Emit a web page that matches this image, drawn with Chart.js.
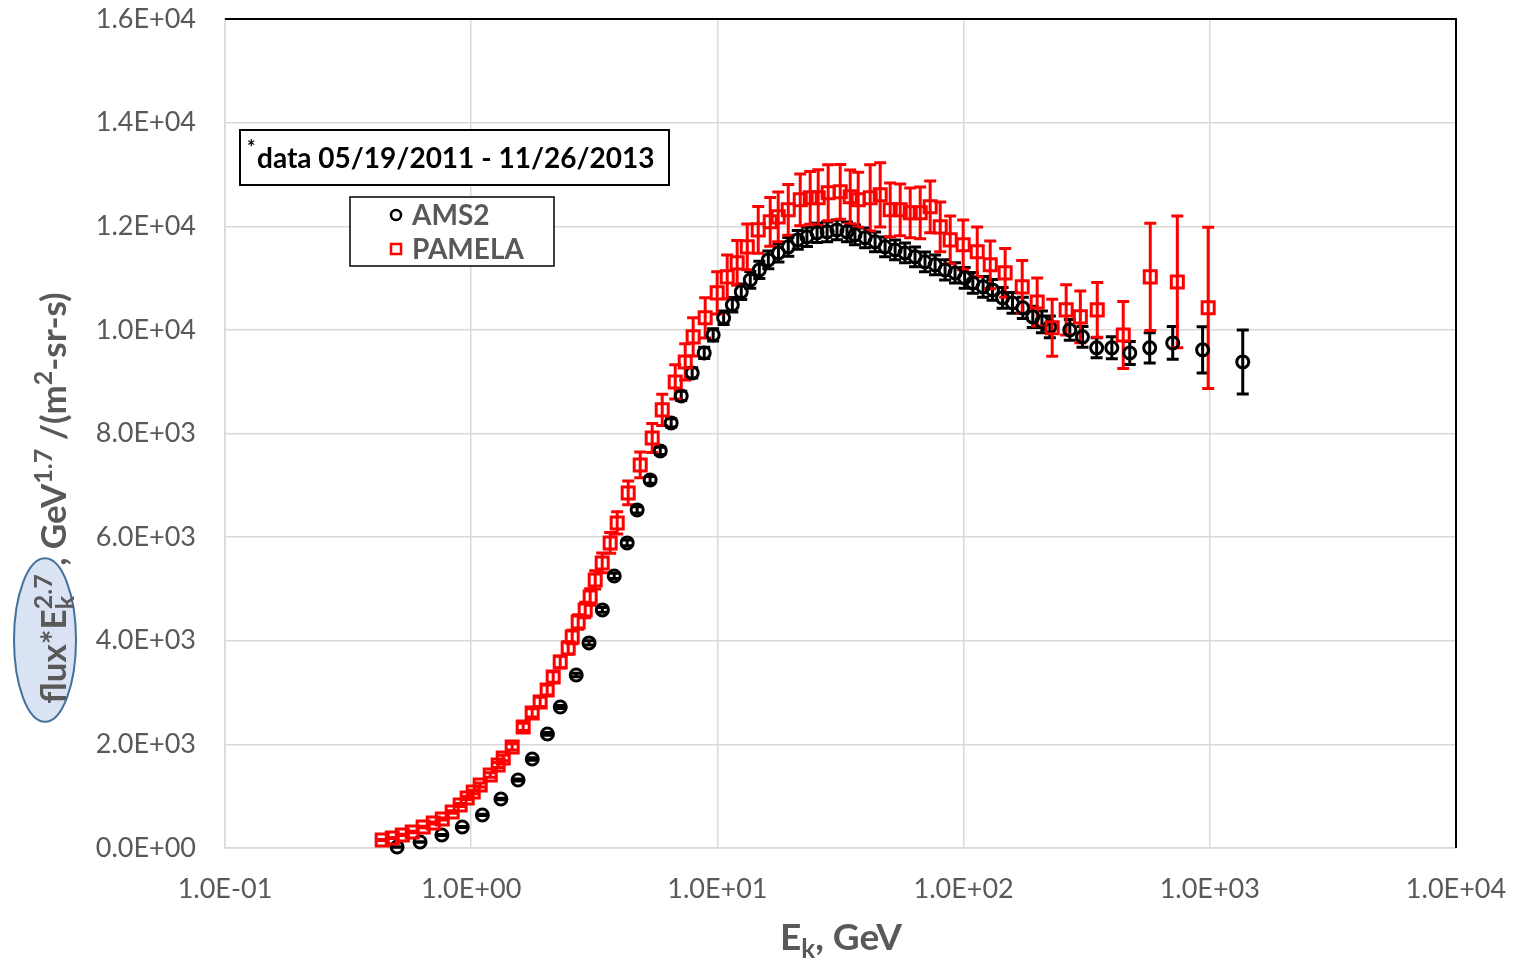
<!DOCTYPE html>
<html>
<head>
<meta charset="utf-8">
<title>AMS2 vs PAMELA flux</title>
<script src="https://cdn.jsdelivr.net/npm/chart.js@4.4.1/dist/chart.umd.min.js"></script>
<style>
  html, body { margin: 0; padding: 0; background: #fff; }
  #wrap { width: 1517px; height: 962px; position: relative; }
</style>
</head>
<body>
<div id="wrap"><canvas id="fluxChart"></canvas></div>
<script>
// AMS2 (black circles): kinetic energy in GeV, flux*Ek^2.7 and its error
const amsE = [0.50, 0.62, 0.76, 0.92, 1.11, 1.32, 1.55, 1.77, 2.04, 2.30,
  2.67, 3.01, 3.41, 3.81, 4.30, 4.72, 5.33, 5.86, 6.49, 7.13, 7.90, 8.84, 9.61,
  10.6, 11.5, 12.5, 13.6, 14.8, 16.1, 17.7, 19.4, 21.2, 23.1, 25.4, 27.9, 30.6,
  33.6, 36.2, 39.8, 43.7, 48.0, 52.7, 57.8, 63.5, 69.7, 76.6, 84.1, 92.3, 101, 109, 120, 131,
  144, 158, 174, 191, 208, 224,
  270, 304, 347, 400, 473, 570, 707, 935, 1361];
const amsFlux = [20, 116, 251, 405, 637, 946, 1313, 1718, 2201, 2722,
  3340, 3958, 4595, 5251, 5888, 6525, 7104, 7664, 8205, 8726, 9170, 9556, 9903,
  10232, 10483, 10734, 10965, 11158, 11351, 11486, 11602, 11737, 11795, 11873, 11892, 11930,
  11892, 11834, 11776, 11699, 11602, 11544, 11486, 11409, 11313, 11255, 11158, 11100, 11004, 10907, 10830, 10772,
  10618, 10521, 10425, 10251, 10155, 10058,
  10000, 9865, 9653, 9653, 9556, 9653, 9749, 9614, 9382];
const amsErr = [5, 6, 8, 10, 12, 15, 18, 22, 26, 30,
  35, 40, 45, 50, 55, 60, 65, 70, 80, 90, 100, 110, 120,
  130, 140, 150, 160, 165, 170, 175, 180, 180, 185, 185, 190, 190,
  190, 190, 190, 190, 190, 190, 190, 190, 190, 190, 195, 195, 200, 200, 200, 200,
  200, 200, 205, 205, 210, 210,
  200, 200, 193, 212, 222, 290, 318, 444, 618];

// PAMELA (red squares)
const pamE = [0.435, 0.478, 0.525, 0.576, 0.638, 0.701, 0.763, 0.837, 0.902, 0.963,
  1.019, 1.088, 1.195, 1.287, 1.349, 1.467,
  1.626, 1.769, 1.906, 2.035, 2.153, 2.299, 2.477, 2.572, 2.720, 2.904,
  3.043, 3.189, 3.405, 3.668, 3.917, 4.342, 4.858, 5.435, 5.969, 6.741,
  7.40, 7.97, 8.92, 9.98,
  10.96, 12.03, 13.22, 14.65, 16.39, 17.66, 19.40, 21.70, 23.82, 25.67,
  28.18, 31.54, 34.63, 37.32, 41.75, 45.84,
  50.33, 55.27, 60.69, 66.64, 73.16, 80.35, 88.23, 99.6, 113.6, 128.3,
  147.5, 173, 199, 229, 261, 298, 349, 445,
  573, 738, 985];
const pamFlux = [154, 193, 251, 309, 405, 483, 560, 695, 830, 965,
  1081, 1216, 1409, 1602, 1737, 1950,
  2336, 2606, 2819, 3050, 3301, 3591, 3861, 4073, 4363, 4595,
  4846, 5174, 5502, 5888, 6274, 6853, 7394, 7915, 8456, 8996,
  9382, 9865, 10232, 10714,
  11023, 11293, 11602, 11930, 12085, 12181, 12317, 12510, 12549, 12549,
  12645, 12664, 12568, 12510, 12549, 12606,
  12317, 12317, 12259, 12259, 12375, 11988, 11737, 11641, 11506, 11255,
  11100, 10830, 10540, 10039, 10386, 10251, 10386, 9903,
  11023, 10926, 10425];
const pamErr = [10, 10, 12, 14, 16, 18, 20, 24, 28, 30,
  35, 40, 45, 50, 55, 60,
  70, 80, 90, 95, 100, 110, 120, 130, 140, 150,
  160, 175, 190, 200, 215, 230, 250, 280, 300, 330,
  350, 370, 390, 410,
  420, 430, 440, 450, 470, 480, 490, 500, 510, 540,
  540, 530, 520, 530, 640, 620,
  520, 500, 480, 500, 500, 480, 460, 480, 480, 460,
  470, 510, 463, 550, 483, 500, 530, 647,
  1033, 1270, 1555];

const xTicks = [0.1, 1, 10, 100, 1000, 10000];
const yMin = 0, yMax = 16000, yStep = 2000;

const GRAY = '#595959';
const FONT = 'Lato, "Open Sans", sans-serif';

// 16000 -> "1.6E+04"
const sci = (v) => {
  const parts = Number(v).toExponential(1).split('e');
  const n = parseInt(parts[1], 10);
  return parts[0] + 'E' + (n < 0 ? '-' : '+') + String(Math.abs(n)).padStart(2, '0');
};

const toPoints = (xs, ys) => xs.map((x, i) => ({ x: x, y: ys[i] }));

// text with sub/superscripts, laid out along a line
function layoutRich(ctx, parts, size) {
  let x = 0, prevStart = 0;
  const items = parts.map(p => {
    const fs = (p.sub || p.sup) ? Math.round(size * 0.7) : size;
    ctx.font = `bold ${fs}px ${FONT}`;
    const start = p.stack ? prevStart : x;
    const w = ctx.measureText(p.t).width;
    prevStart = start;
    x = Math.max(x, start + w);
    return { t: p.t, x: start, end: start + w, fs: fs, dy: p.sup ? -size * 0.4 : (p.sub ? size * 0.22 : 0) };
  });
  return { items: items, width: x };
}
function drawRich(ctx, lay, x0, y0) {
  lay.items.forEach(it => {
    ctx.font = `bold ${it.fs}px ${FONT}`;
    ctx.fillText(it.t, x0 + it.x, y0 + it.dy);
  });
}

const yTitleParts = [
  { t: 'flux*E' }, { t: 'k', sub: true }, { t: '2.7', sup: true, stack: true },
  { t: ' , GeV' }, { t: '1.7', sup: true }, { t: ' /(m' }, { t: '2', sup: true }, { t: '-sr-s)' }
];
const xTitleParts = [{ t: 'E' }, { t: 'k', sub: true }, { t: ', GeV' }];
const noteText = 'data 05/19/2011 - 11/26/2013';

// vertical error bars with caps, drawn under the markers
const errorBars = {
  id: 'errorBars',
  beforeDatasetsDraw(chart) {
    const ctx = chart.ctx, yScale = chart.scales.y;
    chart.data.datasets.forEach((ds, i) => {
      const meta = chart.getDatasetMeta(i);
      ctx.save();
      ctx.strokeStyle = ds.borderColor;
      ctx.lineWidth = 3;
      meta.data.forEach((pt, j) => {
        const v = ds.data[j].y, e = ds.errors[j];
        const top = yScale.getPixelForValue(v + e);
        const bot = yScale.getPixelForValue(v - e);
        ctx.beginPath();
        ctx.moveTo(pt.x, top); ctx.lineTo(pt.x, bot);
        ctx.moveTo(pt.x - 6, top); ctx.lineTo(pt.x + 6, top);
        ctx.moveTo(pt.x - 6, bot); ctx.lineTo(pt.x + 6, bot);
        ctx.stroke();
      });
      ctx.restore();
    });
  }
};

// frame, axis titles, note box and legend
const annotations = {
  id: 'annotations',
  afterDraw(chart) {
    const ctx = chart.ctx, a = chart.chartArea;
    ctx.save();
    ctx.strokeStyle = '#000';
    ctx.lineWidth = 2;
    ctx.beginPath();
    ctx.moveTo(a.left, a.top); ctx.lineTo(a.right, a.top); ctx.lineTo(a.right, a.bottom);
    ctx.stroke();

    // y title, rotated, with the highlighted part
    ctx.save();
    ctx.translate(66, 498);
    ctx.rotate(-Math.PI / 2);
    const ly = layoutRich(ctx, yTitleParts, 35);
    const u0 = -ly.width / 2;
    const e0 = u0 - 18, e1 = u0 + ly.items[2].end + 16;
    ctx.beginPath();
    ctx.ellipse((e0 + e1) / 2, -21, (e1 - e0) / 2, 31, 0, 0, Math.PI * 2);
    ctx.fillStyle = '#dae3f3';
    ctx.fill();
    ctx.strokeStyle = '#41719c';
    ctx.lineWidth = 2;
    ctx.stroke();
    ctx.fillStyle = GRAY;
    ctx.textBaseline = 'alphabetic';
    drawRich(ctx, ly, u0, 0);
    ctx.restore();

    // x title
    ctx.fillStyle = GRAY;
    ctx.textBaseline = 'alphabetic';
    const lx = layoutRich(ctx, xTitleParts, 37);
    drawRich(ctx, lx, 841 - lx.width / 2, 950);

    // note box
    ctx.fillStyle = '#fff';
    ctx.fillRect(240, 130, 429, 55);
    ctx.strokeStyle = '#000';
    ctx.lineWidth = 2;
    ctx.strokeRect(240, 130, 429, 55);
    ctx.fillStyle = '#000';
    ctx.font = `bold 20px ${FONT}`;
    ctx.fillText('*', 247, 155);
    ctx.font = `bold 28px ${FONT}`;
    ctx.fillText(noteText, 257, 168);

    // legend
    ctx.fillStyle = '#fff';
    ctx.fillRect(350, 197, 204, 69);
    ctx.lineWidth = 1.5;
    ctx.strokeRect(350, 197, 204, 69);
    chart.data.datasets.forEach((ds, i) => {
      const cy = 215 + 34 * i;
      ctx.strokeStyle = ds.borderColor;
      ctx.lineWidth = 2.5;
      ctx.beginPath();
      if (ds.pointStyle === 'rect') ctx.rect(391, cy - 5, 10, 10);
      else ctx.arc(396, cy, 5, 0, Math.PI * 2);
      ctx.stroke();
      ctx.fillStyle = GRAY;
      ctx.font = `bold 28px ${FONT}`;
      ctx.fillText(ds.label, 412, cy + 10);
    });
    ctx.restore();
  }
};

const ctx = document.getElementById('fluxChart').getContext('2d');
new Chart(ctx, {
  type: 'scatter',
  data: {
    datasets: [{
      label: 'AMS2',
      data: toPoints(amsE, amsFlux),
      errors: amsErr,
      pointStyle: 'circle',
      pointRadius: 6,
      borderWidth: 3,
      borderColor: '#000000',
      backgroundColor: 'rgba(0,0,0,0)',
      order: 2,
      clip: false
    }, {
      label: 'PAMELA',
      data: toPoints(pamE, pamFlux),
      errors: pamErr,
      pointStyle: 'rect',
      pointRadius: 8.5,
      borderWidth: 3,
      borderColor: '#ff0000',
      backgroundColor: 'rgba(0,0,0,0)',
      order: 1,
      clip: false
    }]
  },
  options: {
    responsive: true,
    maintainAspectRatio: false,
    animation: false,
    events: [],
    layout: { padding: { top: 19, right: 61, left: 0, bottom: 0 } },
    plugins: { legend: { display: false }, tooltip: { enabled: false } },
    scales: {
      x: {
        type: 'logarithmic',
        min: xTicks[0],
        max: xTicks[xTicks.length - 1],
        afterBuildTicks: (s) => { s.ticks = xTicks.map(v => ({ value: v })); },
        afterFit: (s) => { s.height = 114; s.paddingLeft = 0; s.paddingRight = 0; },
        grid: { color: '#d9d9d9', lineWidth: 1.5, drawTicks: false },
        border: { color: '#d9d9d9', width: 1.5 },
        ticks: {
          color: GRAY, padding: 25, maxRotation: 0, autoSkip: false,
          font: { family: FONT, size: 27 },
          callback: (v) => sci(v)
        }
      },
      y: {
        min: yMin,
        max: yMax,
        afterFit: (s) => { s.width = 225; s.paddingTop = 0; s.paddingBottom = 0; },
        grid: { color: '#d9d9d9', lineWidth: 1.5, drawTicks: false },
        border: { color: '#d9d9d9', width: 1.5 },
        ticks: {
          stepSize: yStep, color: GRAY, padding: 29,
          font: { family: FONT, size: 27 },
          callback: (v) => sci(v)
        }
      }
    }
  },
  plugins: [errorBars, annotations]
});
</script>
</body>
</html>
